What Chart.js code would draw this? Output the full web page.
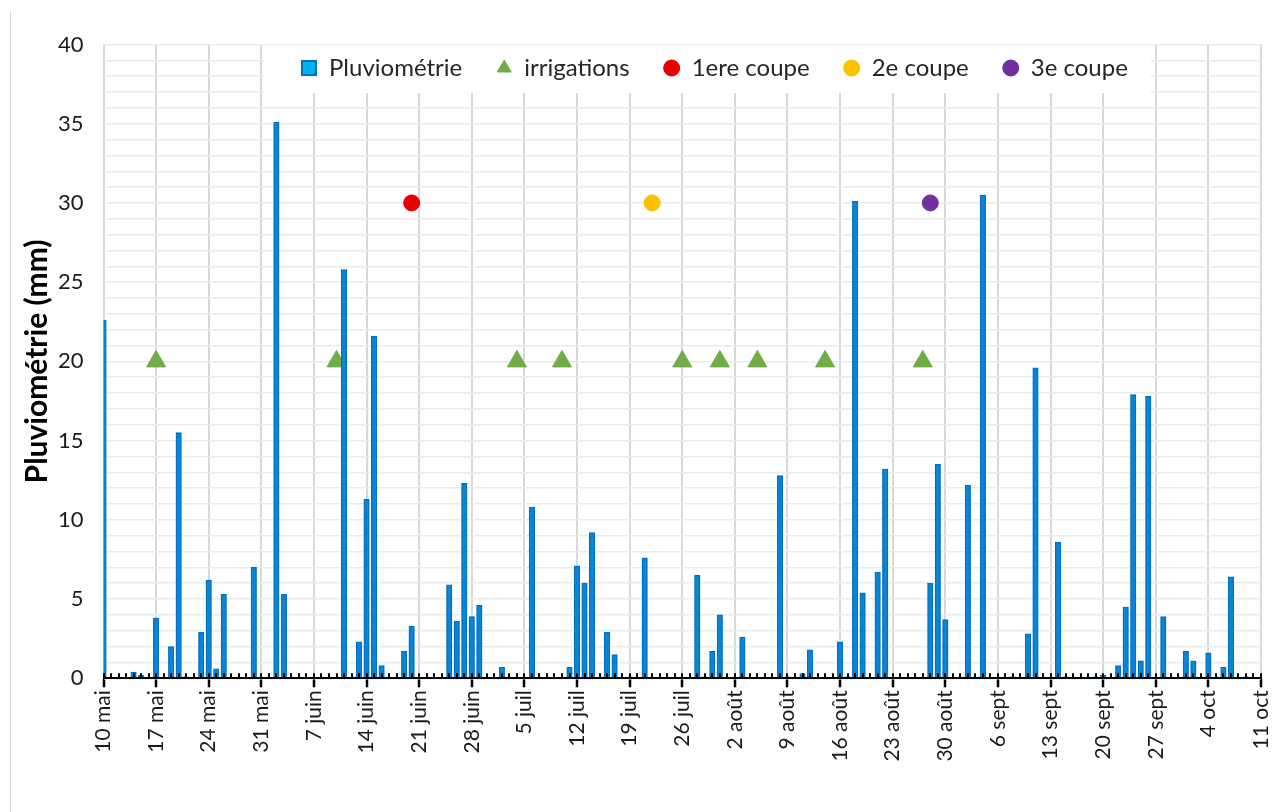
<!DOCTYPE html>
<html>
<head>
<meta charset="utf-8">
<script src="https://cdn.jsdelivr.net/npm/chart.js@4.4.1/dist/chart.umd.min.js"></script>
<style>
  html, body { margin: 0; padding: 0; background: #ffffff; }
  #wrap { position: relative; width: 1273px; height: 812px; overflow: hidden; }
  #edge { position: absolute; left: 10px; top: 12px; width: 0; height: 800px; border-left: 1px solid #d6d6d6; }
</style>
</head>
<body>
<div id="wrap">
  <canvas id="c" width="1273" height="812"></canvas>
  <div id="edge"></div>
</div>
<script>
// ---------- DATA ----------
const monthNames = ['janv', 'févr', 'mars', 'avr', 'mai', 'juin', 'juil', 'août', 'sept', 'oct', 'nov', 'déc'];
const dayCount = 155; // 10 mai -> 11 oct
const categories = [];
for (let i = 0; i < dayCount; i++) {
  const d = new Date(2021, 4, 10 + i);
  categories.push(d.getDate() + ' ' + monthNames[d.getMonth()]);
}

const tickLabels = ['10 mai', '17 mai', '24 mai', '31 mai', '7 juin', '14 juin', '21 juin', '28 juin',
  '5 juil', '12 juil', '19 juil', '26 juil', '2 août', '9 août', '16 août', '23 août', '30 août',
  '6 sept', '13 sept', '20 sept', '27 sept', '4 oct', '11 oct'];

const rainDates = ['10 mai', '14 mai', '15 mai', '17 mai', '19 mai', '20 mai', '21 mai', '23 mai', '24 mai', '25 mai',
  '26 mai', '30 mai', '2 juin', '3 juin', '11 juin', '13 juin', '14 juin', '15 juin', '16 juin', '19 juin',
  '20 juin', '25 juin', '26 juin', '27 juin', '28 juin', '29 juin', '2 juil', '6 juil', '11 juil', '12 juil',
  '13 juil', '14 juil', '16 juil', '17 juil', '19 juil', '21 juil', '28 juil', '29 juil', '30 juil', '31 juil',
  '3 août', '8 août', '9 août', '11 août', '12 août', '16 août', '17 août', '18 août', '19 août', '21 août',
  '22 août', '28 août', '29 août', '30 août', '2 sept', '4 sept', '8 sept', '10 sept', '11 sept', '14 sept',
  '15 sept', '19 sept', '20 sept', '22 sept', '23 sept', '24 sept', '25 sept', '26 sept', '28 sept', '1 oct',
  '2 oct', '4 oct', '6 oct', '7 oct', '9 oct'];
const rainMm = [22.6, 0.4, 0.2, 3.8, 2.0, 15.5, 0.1, 2.9, 6.2, 0.6,
  5.3, 7.0, 35.1, 5.3, 25.8, 2.3, 11.3, 21.6, 0.8, 1.7,
  3.3, 5.9, 3.6, 12.3, 3.9, 4.6, 0.7, 10.8, 0.7, 7.1,
  6.0, 9.2, 2.9, 1.5, 0.1, 7.6, 6.5, 0.1, 1.7, 4.0,
  2.6, 12.8, 0.1, 0.3, 1.8, 2.3, 0.1, 30.1, 5.4, 6.7,
  13.2, 6.0, 13.5, 3.7, 12.2, 30.5, 0.1, 2.8, 19.6, 8.6,
  0.1, 0.1, 0.2, 0.8, 4.5, 17.9, 1.1, 17.8, 3.9, 1.7,
  1.1, 1.6, 0.7, 6.4, 0.1];

const irrigationDates = ['17 mai', '10 juin', '4 juil', '10 juil', '26 juil', '31 juil', '5 août', '14 août', '27 août'];
const irrigationLevel = 20;

const cut1Dates = ['20 juin'];
const cut2Dates = ['22 juil'];
const cut3Dates = ['28 août'];
const cutLevel = 30;

// ---------- STYLE HELPERS ----------
const FONT = 'Lato, "Noto Sans", sans-serif';
const LEGEND_SIZE = 24;
const isWeek = (i) => tickLabels.includes(categories[i]);

const squareMarker = document.createElement('canvas');
squareMarker.width = 16; squareMarker.height = 16;
(function () {
  const g = squareMarker.getContext('2d');
  g.fillStyle = '#00B0F0'; g.fillRect(1, 1, 14, 14);
  g.strokeStyle = '#0070C0'; g.lineWidth = 2; g.strokeRect(1, 1, 14, 14);
})();

// Legend drawn over the top of the plot area, with white backing
const overlayLegend = {
  id: 'overlayLegend',
  beforeInit(chart) {
    const lg = chart.legend;
    if (!lg) return;
    const origFit = lg.fit;
    lg.fit = function () { origFit.call(this); this.height = 0; };
    lg._layers = function () {
      return [{
        z: 1,
        draw() {
          const ctx = chart.ctx;
          const pad = lg.options.labels.padding;
          const lw = lg.lineWidths[0];
          const startX = 301, midY = 68;
          const saved = [lg.left, lg.right, lg.top, lg.bottom, lg.width, lg.height];
          ctx.save();
          ctx.fillStyle = '#ffffff';
          const bx = startX - 37, bw = (startX + lw - pad + 23) - bx;
          ctx.fillRect(bx, 45, bw, 48);
          ctx.restore();
          lg.left = startX - pad - 1;
          lg.right = startX + lw + 1;
          lg.width = lg.right - lg.left;
          lg.top = midY - pad - LEGEND_SIZE / 2;
          lg.bottom = lg.top + 200;
          lg.height = 200;
          lg.draw();
          [lg.left, lg.right, lg.top, lg.bottom, lg.width, lg.height] = saved;
        }
      }];
    };
  }
};

// small daily tick marks, inside, above the axis line
const dayTicks = {
  id: 'dayTicks',
  afterDatasetsDraw(chart) {
    const xs = chart.scales.x;
    const y0 = chart.scales.y.getPixelForValue(0);
    const ctx = chart.ctx;
    ctx.save();
    ctx.strokeStyle = '#000000';
    ctx.lineWidth = 2;
    ctx.beginPath();
    for (let i = 0; i < categories.length; i++) {
      const px = Math.round(xs.getPixelForValue(i));
      ctx.moveTo(px, y0 - 5);
      ctx.lineTo(px, y0);
    }
    ctx.stroke();
    ctx.restore();
  }
};

const pointSeries = (label, dates, level, style, color, radius) => ({
  type: 'line',
  label,
  data: dates.map(d => ({ x: d, y: level })),
  showLine: false,
  pointStyle: style,
  pointRadius: radius,
  backgroundColor: color,
  borderColor: color,
  pointBackgroundColor: color,
  pointBorderColor: color,
  borderWidth: 1,
  pointBorderWidth: 1
});

new Chart(document.getElementById('c'), {
  type: 'bar',
  data: {
    labels: categories,
    datasets: [
      {
        label: 'Pluviométrie',
        data: rainDates.map((d, i) => ({ x: d, y: rainMm[i] })),
        backgroundColor: '#0B84D6',
        borderColor: '#0070C0',
        borderWidth: 1.3,
        barThickness: 5.5
      },
      pointSeries('irrigations', irrigationDates, irrigationLevel, 'triangle', '#70AD47', 11),
      pointSeries('1ere coupe', cut1Dates, cutLevel, 'circle', '#E80000', 8),
      pointSeries('2e coupe', cut2Dates, cutLevel, 'circle', '#FFC000', 8),
      pointSeries('3e coupe', cut3Dates, cutLevel, 'circle', '#7030A0', 8)
    ]
  },
  options: {
    responsive: false,
    animation: false,
    devicePixelRatio: 1,
    layout: { padding: { left: 0, right: 6, top: 44.5, bottom: 0 } },
    plugins: {
      tooltip: { enabled: false },
      legend: {
        position: 'top',
        labels: {
          usePointStyle: true,
          boxWidth: 16,
          boxHeight: 11.3,
          padding: 34,
          color: '#262626',
          font: { family: FONT, size: LEGEND_SIZE },
          generateLabels(chart) {
            const items = Chart.defaults.plugins.legend.labels.generateLabels(chart);
            items[0].pointStyle = squareMarker;
            return items;
          }
        }
      }
    },
    scales: {
      x: {
        type: 'category',
        offset: false,
        grid: {
          offset: false,
          color: (c) => isWeek(c.index) ? '#D9D9D9' : 'rgba(0,0,0,0)',
          lineWidth: 2,
          tickColor: (c) => isWeek(c.index) ? '#000000' : 'rgba(0,0,0,0)',
          tickLength: 9,
          tickWidth: 2.5
        },
        border: { color: '#000000', width: 2, z: 1 },
        ticks: {
          autoSkip: false,
          maxRotation: 90,
          minRotation: 90,
          padding: 3,
          color: '#1a1a1a',
          font: { family: FONT, size: 21 },
          callback(value) {
            const lbl = this.getLabelForValue(value);
            return tickLabels.includes(lbl) ? lbl : '';
          }
        },
        afterFit(s) { s.height = 133.7; s.paddingLeft = 0; s.paddingRight = 0; }
      },
      y: {
        type: 'linear',
        min: 0,
        max: 40,
        grid: { color: '#EBEBEB', lineWidth: 1.5, drawTicks: false },
        border: { display: false },
        ticks: {
          stepSize: 1,
          autoSkip: false,
          padding: 20,
          color: '#1a1a1a',
          font: { family: FONT, size: 22 },
          callback: (v) => (v % 5 === 0 ? v : '')
        },
        title: {
          display: true,
          text: 'Pluviométrie (mm)',
          color: '#000000',
          font: { family: FONT, size: 30, weight: 'bold' },
          padding: { top: 19, bottom: 0 }
        },
        afterFit(s) { s.width = 103.5; s.paddingTop = 0; s.paddingBottom = 0; }
      }
    }
  },
  plugins: [overlayLegend, dayTicks]
});
</script>
</body>
</html>
